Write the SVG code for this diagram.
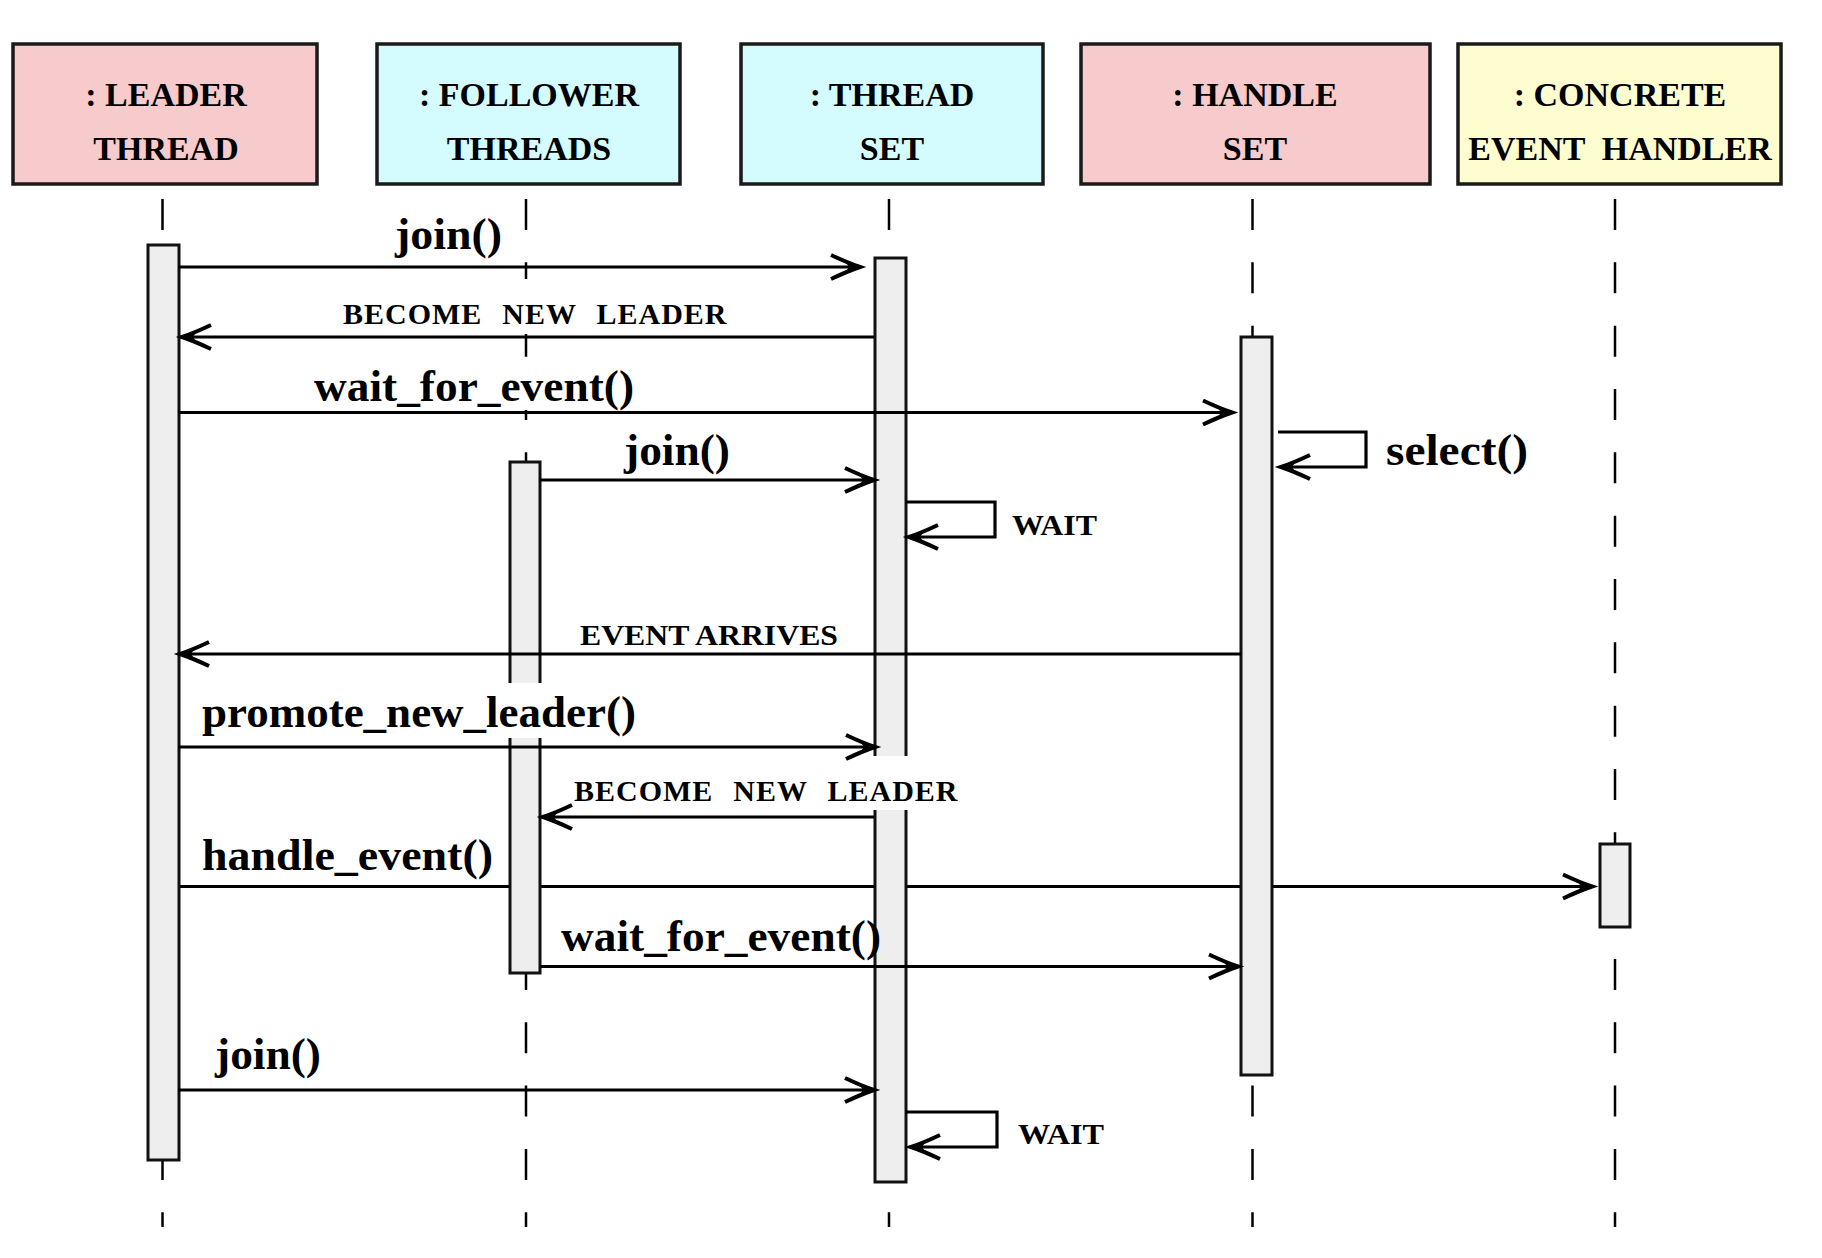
<svg xmlns="http://www.w3.org/2000/svg" width="1822" height="1258" viewBox="0 0 1822 1258">
<defs>
<style>
.box{stroke:#1a1a1a;stroke-width:3.5}
.pink{fill:#F7CBCC}
.cyan{fill:#D4FBFD}
.yellow{fill:#FEFDD0}
.title{font-family:"Liberation Serif","Times New Roman",serif;font-weight:bold;font-size:34px;fill:#000;text-anchor:middle}
.life{stroke:#000;stroke-width:2.5;stroke-dasharray:31 32.33;fill:none}
.bar{fill:#EEEEEE;stroke:#111;stroke-width:3}
.msg{stroke:#000;stroke-width:3.2;fill:none;marker-end:url(#arr)}
.big{font-family:"Liberation Serif","Times New Roman",serif;font-weight:bold;font-size:45px;fill:#000}
.small{font-family:"Liberation Serif","Times New Roman",serif;font-weight:bold;font-size:30px;fill:#000}
.wide{letter-spacing:1px;word-spacing:1.5px}
.bg{fill:#fff}
</style>
<marker id="arr" markerUnits="userSpaceOnUse" markerWidth="40" markerHeight="40" refX="0" refY="0" orient="auto" overflow="visible">
<path d="M-29,-12 Q-12,-4 0,0 Q-12,4 -29,12" stroke="#000" stroke-width="4" fill="none"/>
<path d="M1,0 L-15,-6 L-11,0 L-15,6 Z" fill="#000"/>
</marker>
</defs>

<g id="lifelines">
<line class="life" x1="162.5" y1="199" x2="162.5" y2="1227"/>
<line class="life" x1="526" y1="199" x2="526" y2="1227"/>
<line class="life" x1="889" y1="199" x2="889" y2="1227"/>
<line class="life" x1="1252.5" y1="199" x2="1252.5" y2="1227"/>
<line class="life" x1="1615" y1="199" x2="1615" y2="1227"/>
</g>

<g id="node-leader">
<rect class="box pink" x="13" y="44" width="304" height="140"/>
<text class="title" x="166" y="106">: LEADER</text>
<text class="title" x="166" y="160">THREAD</text>
</g>
<g id="node-follower">
<rect class="box cyan" x="377" y="44" width="303" height="140"/>
<text class="title" x="529" y="106">: FOLLOWER</text>
<text class="title" x="529" y="160">THREADS</text>
</g>
<g id="node-threadset">
<rect class="box cyan" x="741" y="44" width="302" height="140"/>
<text class="title" x="892" y="106">: THREAD</text>
<text class="title" x="892" y="160">SET</text>
</g>
<g id="node-handleset">
<rect class="box pink" x="1081" y="44" width="349" height="140"/>
<text class="title" x="1255" y="106">: HANDLE</text>
<text class="title" x="1255" y="160">SET</text>
</g>
<g id="node-concrete">
<rect class="box yellow" x="1458" y="44" width="323" height="140"/>
<text class="title" x="1620" y="106">: CONCRETE</text>
<text class="title" x="1620" y="160" xml:space="preserve">EVENT  HANDLER</text>
</g>

<g id="connectors-under">
<path class="msg" d="M178,886.5 H1592"/>
</g>

<g id="activations">
<rect id="bar-leader" class="bar" x="148" y="245" width="31" height="915"/>
<rect id="bar-follower" class="bar" x="510" y="462" width="30" height="511"/>
<rect id="bar-threadset" class="bar" x="875" y="258" width="31" height="924"/>
<rect id="bar-handleset" class="bar" x="1241" y="337" width="31" height="738"/>
<rect id="bar-concrete" class="bar" x="1600" y="844" width="30" height="83"/>
</g>

<g id="labels">
<rect class="bg" x="335" y="279" width="400" height="55"/>
<rect class="bg" x="308" y="365" width="332" height="45"/>
<rect class="bg" x="195" y="683" width="447" height="55"/>
<rect class="bg" x="565" y="756" width="403" height="54"/>
<text class="big" x="395" y="249" textLength="107" lengthAdjust="spacingAndGlyphs">join()</text>
<text class="small wide" x="343" y="324" xml:space="preserve">BECOME  NEW  LEADER</text>
<text class="big" x="314" y="401" textLength="320" lengthAdjust="spacingAndGlyphs">wait_for_event()</text>
<text class="big" x="624" y="465" textLength="106" lengthAdjust="spacingAndGlyphs">join()</text>
<text class="big" x="1386" y="465" textLength="142" lengthAdjust="spacingAndGlyphs">select()</text>
<text class="small" x="1012" y="535" textLength="85" lengthAdjust="spacingAndGlyphs">WAIT</text>
<text class="small" x="580" y="645" textLength="258" lengthAdjust="spacingAndGlyphs">EVENT ARRIVES</text>
<text class="big" x="202" y="727" textLength="434" lengthAdjust="spacingAndGlyphs">promote_new_leader()</text>
<text class="small wide" x="574" y="801" xml:space="preserve">BECOME  NEW  LEADER</text>
<text class="big" x="202" y="870" textLength="291" lengthAdjust="spacingAndGlyphs">handle_event()</text>
<text class="big" x="561" y="951" textLength="320" lengthAdjust="spacingAndGlyphs">wait_for_event()</text>
<text class="big" x="215" y="1069" textLength="106" lengthAdjust="spacingAndGlyphs">join()</text>
<text class="small" x="1018" y="1144" textLength="86" lengthAdjust="spacingAndGlyphs">WAIT</text>
</g>

<g id="connectors">
<path class="msg" d="M178,267 H860"/>
<path class="msg" d="M874,337 H182"/>
<path class="msg" d="M178,412.5 H1232"/>
<path class="msg" d="M540,480 H874"/>
<path class="msg" d="M1278,432 H1366 V467 H1281"/>
<path class="msg" d="M906,502 H995 V537 H909"/>
<path class="msg" d="M1241,654 H180"/>
<path class="msg" d="M178,747 H875"/>
<path class="msg" d="M874,817 H543"/>
<path class="msg" d="M540,966.5 H1238"/>
<path class="msg" d="M178,1090 H874"/>
<path class="msg" d="M906,1112 H997 V1147 H911"/>
</g>
</svg>
